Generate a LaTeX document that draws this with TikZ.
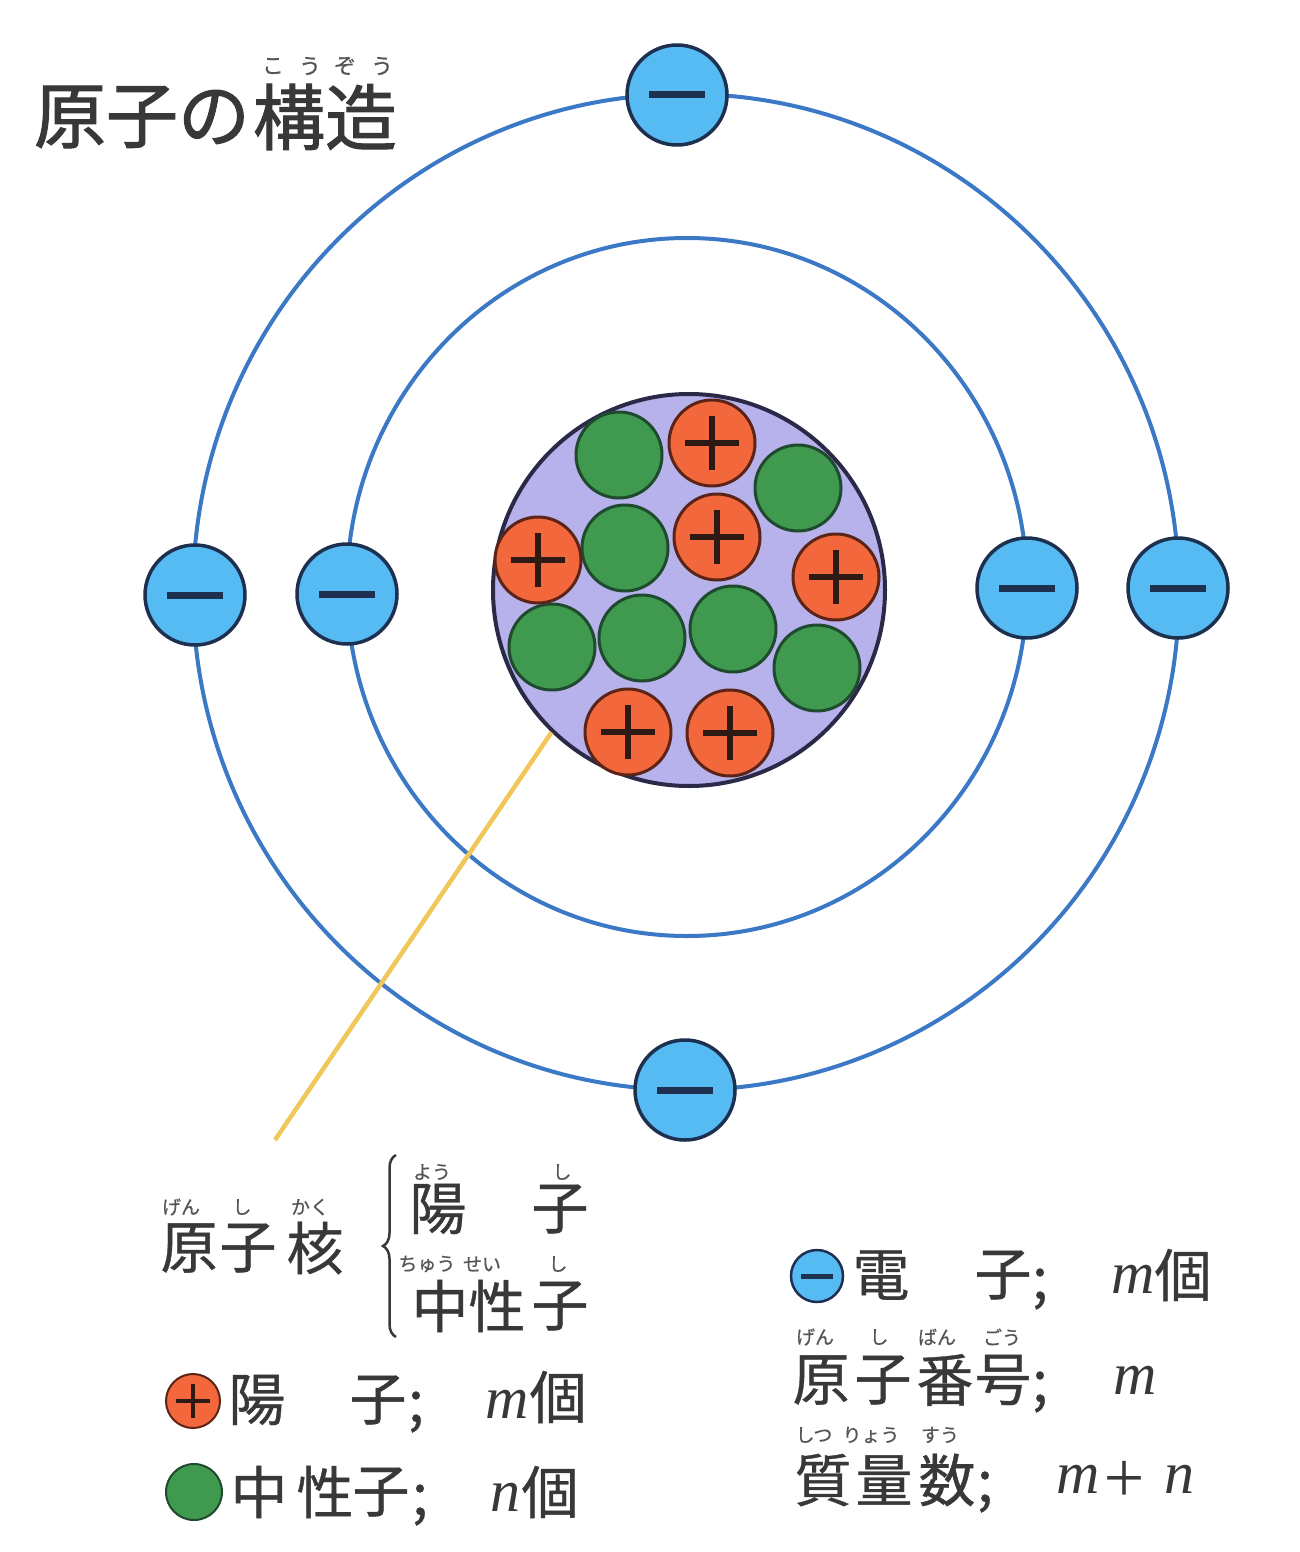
\documentclass[tikz,border=0pt]{standalone}
\usepackage{fontspec}
\newfontfamily\jp[FakeBold=0.6]{Noto Sans CJK JP}
\newfontfamily\jpt[FakeBold=1.4]{Noto Sans CJK JP}
\newfontfamily\lser{Liberation Serif}
\usetikzlibrary{decorations.pathreplacing}
\definecolor{ring}{HTML}{3B78C6}
\definecolor{efill}{HTML}{56BAF3}
\definecolor{eline}{HTML}{1E3050}
\definecolor{gfill}{HTML}{3F9A4F}
\definecolor{gline}{HTML}{1F4A2E}
\definecolor{rfill}{HTML}{F2683C}
\definecolor{rline}{HTML}{5C2417}
\definecolor{pmark}{HTML}{2E1A14}
\definecolor{nfill}{HTML}{B7B2EC}
\definecolor{nline}{HTML}{2A2A48}
\definecolor{txt}{HTML}{383838}
\definecolor{ruby}{HTML}{555555}
\definecolor{lead}{HTML}{F1C75A}
\tikzset{
  orbit/.style={draw=ring, line width=4pt},
  electron/.style={circle, draw=eline, line width=3.5pt, fill=efill, minimum size=100pt, inner sep=0pt,
    path picture={\draw[eline, line width=7pt] ([xshift=-28pt]path picture bounding box.center) -- ([xshift=28pt]path picture bounding box.center);}},
  eicon/.style={circle, draw=eline, line width=2.5pt, fill=efill, minimum size=52pt, inner sep=0pt,
    path picture={\draw[eline, line width=5pt] ([xshift=-16pt]path picture bounding box.center) -- ([xshift=16pt]path picture bounding box.center);}},
  proton/.style={circle, draw=rline, line width=3pt, fill=rfill, minimum size=86pt, inner sep=0pt,
    path picture={\draw[pmark, line width=6pt] ([xshift=-27pt]path picture bounding box.center) -- ([xshift=27pt]path picture bounding box.center)
      ([yshift=-27pt]path picture bounding box.center) -- ([yshift=27pt]path picture bounding box.center);}},
  picon/.style={circle, draw=rline, line width=2pt, fill=rfill, minimum size=54pt, inner sep=0pt,
    path picture={\draw[pmark, line width=4pt] ([xshift=-17pt]path picture bounding box.center) -- ([xshift=17pt]path picture bounding box.center)
      ([yshift=-17pt]path picture bounding box.center) -- ([yshift=17pt]path picture bounding box.center);}},
  neutron/.style={circle, draw=gline, line width=3pt, fill=gfill, minimum size=86pt, inner sep=0pt},
  nicon/.style={circle, draw=gline, line width=2pt, fill=gfill, minimum size=56pt, inner sep=0pt},
  nucleus/.style={circle, draw=nline, line width=4pt, fill=nfill, minimum size=392pt, inner sep=0pt},
  ttl/.style={inner sep=0pt, text=txt, font={\jpt\fontsize{72pt}{76pt}\selectfont}},
  ttlruby/.style={inner sep=0pt, text=ruby, font={\jp\fontsize{22pt}{24pt}\selectfont}},
  big/.style={inner sep=0pt, text=txt, font={\jp\fontsize{57pt}{60pt}\selectfont}},
  rb/.style={inner sep=0pt, text=ruby, font={\jp\fontsize{19pt}{21pt}\selectfont}},
  ital/.style={inner sep=0pt, text=txt, font={\lser\itshape\fontsize{60pt}{64pt}\selectfont}},
}
\begin{document}
\begin{tikzpicture}[x=1pt,y=-1pt]
\useasboundingbox (0,0) rectangle (1300,1552);
\fill[white] (0,0) rectangle (1300,1552);

% orbits
\draw[orbit] (686,592) ellipse [x radius=493, y radius=498];
\draw[orbit] (687,587) ellipse [x radius=340, y radius=349];

% nucleus
\node[nucleus] (nuc) at (689,590) {};
\coordinate (leadend) at (275,1140);
\draw[lead, line width=4.5pt] (nuc.226) -- (leadend);

\node[neutron] (n1) at (619,455) {};
\node[neutron] (n2) at (798,488) {};
\node[neutron] (n3) at (625,548) {};
\node[neutron] (n4) at (552,647) {};
\node[neutron] (n5) at (642,638) {};
\node[neutron] (n6) at (733,629) {};
\node[neutron] (n7) at (817,668) {};
\node[proton] (p1) at (712,443) {};
\node[proton] (p2) at (538,560) {};
\node[proton] (p3) at (717,537) {};
\node[proton] (p4) at (836,577) {};
\node[proton] (p5) at (628,732) {};
\node[proton] (p6) at (730,733) {};

% electrons
\node[electron] (e1) at (677,95) {};
\node[electron] (e2) at (195,595) {};
\node[electron] (e3) at (347,594) {};
\node[electron] (e4) at (1027,588) {};
\node[electron] (e5) at (1178,588) {};
\node[electron] (e6) at (685,1090) {};

% title
\foreach \c/\x [count=\i] in {原/70, 子/142, の/214, 構/289, 造/361}
  \node[ttl] (t\i) at (\x,117) {\c};
\foreach \c/\x [count=\i] in {こ/273, う/310, ぞ/345, う/382}
  \node[ttlruby] (tr\i) at (\x,66) {\c};

% legend glyphs
\foreach \c/\x/\y [count=\i] in {原/189/1248, 子/248/1248, 核/315/1248,
    陽/438/1209, 子/560/1209, 中/440/1306, 性/497/1306, 子/560/1306,
    陽/257/1400, 子/378/1400, 個/558/1397,
    中/259/1492, 性/325/1492, 子/381/1492, 個/550/1492,
    電/881/1275, 子/1003/1275, 個/1183/1275,
    原/821/1380, 子/883/1380, 番/945/1380, 号/1003/1380,
    質/823/1480, 量/884/1480, 数/947/1480}
  \node[big] (k\i) at (\x,\y) {\c};

\foreach \x/\y [count=\i] in {416/1412, 420/1505, 1040/1289, 1040/1392, 985/1492}
  \node[big] (s\i) at (\x,\y) {;};

\foreach \c/\x/\y [count=\i] in {げん/181/1207, し/242/1207, かく/310/1207,
    よう/432/1172, し/562/1172, ちゅう/427/1264, せい/482/1264, し/558/1264,
    げん/815/1337, し/879/1337, ばん/937/1337, ごう/1002/1337,
    しつ/814/1435, りょう/871/1435, すう/940/1435}
  \node[rb] (r\i) at (\x,\y) {\c};

\node[ital] (m1) at (507,1404) {m};
\node[ital] (nn1) at (505,1497) {n};
\node[ital] (m2) at (1133,1279) {m};
\node[ital] (m3) at (1135,1380) {m};
\node[ital] (m4) at (1078,1479) {m};
\node[inner sep=0pt, text=txt, font={\jp\fontsize{46pt}{48pt}\selectfont}] (plus) at (1124,1478) {＋};
\node[ital] (nn2) at (1179,1479) {n};

% brace
\draw[decorate, decoration={brace, amplitude=13pt}, line width=2.5pt, draw=txt] (396,1337) -- (396,1155);

% legend icons
\node[picon] (ip) at (193,1401) {};
\node[nicon] (in) at (194,1492) {};
\node[eicon] (ie) at (817,1276) {};
\end{tikzpicture}
\end{document}
